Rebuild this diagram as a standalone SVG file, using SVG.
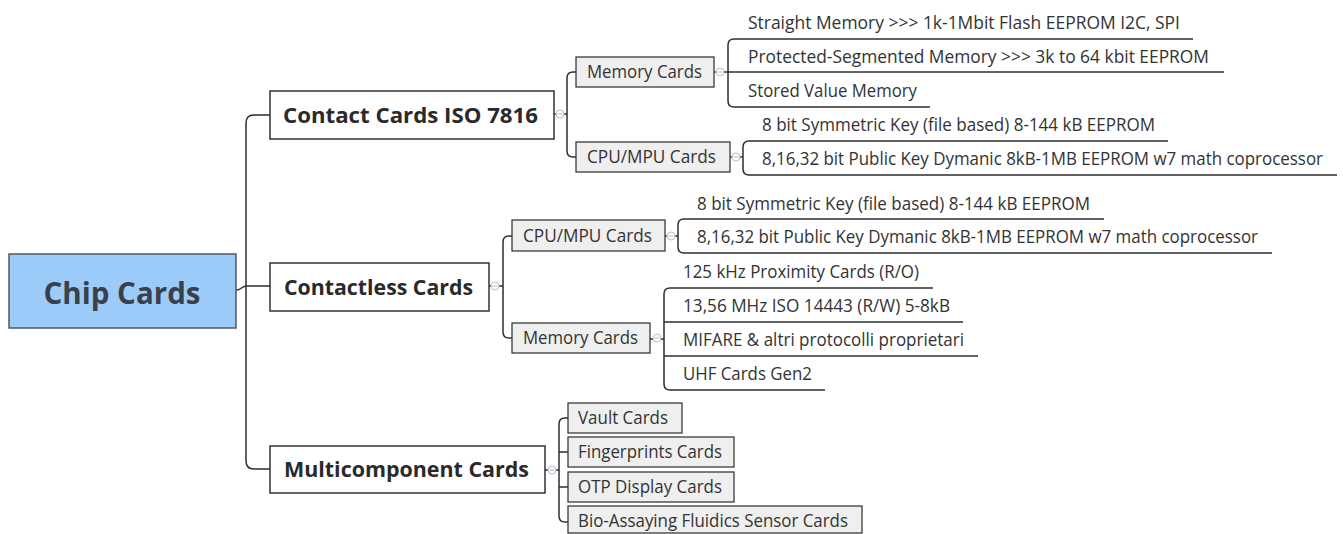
<svg xmlns="http://www.w3.org/2000/svg" width="1343" height="534" viewBox="0 0 1343 534">
  <style>
    .bg { fill: #ffffff; }
    .line { fill: none; stroke: #2e2e2e; stroke-width: 1.5; }
    .root-box { fill: #9dcbf9; stroke: #4f5762; stroke-width: 1.5; }
    .main-box { fill: #ffffff; stroke: #333333; stroke-width: 1.5; }
    .sub-box { fill: #efefef; stroke: #3a3a3a; stroke-width: 1.3; }
    .root-text { font-family: "Open Sans", "Noto Sans", sans-serif; font-weight: 700; font-size: 30px; fill: #3a4049; }
    .main-text { font-family: "Open Sans", "Noto Sans", sans-serif; font-weight: 700; font-size: 22px; fill: #2a2a2a; }
    .sub-text { font-family: "Open Sans", "Noto Sans", sans-serif; font-size: 17.5px; fill: #333333; }
    .leaf-text { font-family: "Open Sans", "Noto Sans", sans-serif; font-size: 17.5px; fill: #333333; }
    .collapse { fill: #ffffff; stroke: #b4c0d4; stroke-width: 1; }
    .collapse-bar { stroke: #b4c0d4; stroke-width: 1; }
  </style>
  <defs>
    <g id="collapse-btn">
      <circle class="collapse" cx="0" cy="0" r="4"/>
      <line class="collapse-bar" x1="-2.5" y1="0" x2="2.5" y2="0"/>
    </g>
  </defs>

  <rect class="bg" x="0" y="0" width="1343" height="534"/>

  <!-- connectors -->
  <g id="connectors">
    <!-- root trunk -->
    <path class="line" d="M270,115 H254 Q246,115 246,123 V461 Q246,469 254,469 H270"/>
    <path class="line" d="M236,290 C242,290 241,286 247,286 H270"/>
    <!-- Contact Cards ISO 7816 -->
    <path class="line" d="M554,114 H567"/>
    <path class="line" d="M576,72 H573 Q567,72 567,78 V151 Q567,157 573,157 H576"/>
    <!-- contact memory leaves -->
    <path class="line" d="M714,72 H1224"/>
    <path class="line" d="M1193,39 H734 Q728,39 728,45 V101 Q728,107 734,107 H930"/>
    <!-- contact CPU leaves -->
    <path class="line" d="M730,157 H743"/>
    <path class="line" d="M1168,141 H749 Q743,141 743,147 V169 Q743,175 749,175 H1337"/>
    <!-- Contactless Cards -->
    <path class="line" d="M489,286 H503"/>
    <path class="line" d="M512,236 H509 Q503,236 503,242 V332 Q503,338 509,338 H512"/>
    <!-- contactless CPU leaves -->
    <path class="line" d="M665,236 H678"/>
    <path class="line" d="M1104,219 H684 Q678,219 678,225 V247 Q678,253 684,253 H1272"/>
    <!-- contactless memory leaves -->
    <path class="line" d="M650,339 H664"/>
    <path class="line" d="M933,288 H670 Q664,288 664,294 V384 Q664,390 670,390 H825"/>
    <path class="line" d="M664,322 H963"/>
    <path class="line" d="M664,356 H978"/>
    <!-- Multicomponent Cards -->
    <path class="line" d="M545,470 H559"/>
    <path class="line" d="M568,418 H565 Q559,418 559,424 V516 Q559,522 565,522 H568"/>
    <path class="line" d="M559,452 H568"/>
    <path class="line" d="M559,487 H568"/>
  </g>

  <!-- collapse buttons -->
  <g id="collapse-buttons">
    <use href="#collapse-btn" x="560" y="114"/>
    <use href="#collapse-btn" x="720" y="72"/>
    <use href="#collapse-btn" x="736" y="157"/>
    <use href="#collapse-btn" x="495" y="286"/>
    <use href="#collapse-btn" x="671" y="236"/>
    <use href="#collapse-btn" x="657" y="338"/>
    <use href="#collapse-btn" x="552" y="470"/>
  </g>

  <!-- root -->
  <g id="chip-cards">
    <rect class="root-box" x="9" y="254" width="227" height="74"/>
    <text class="root-text" x="122" y="304" text-anchor="middle" textLength="157" lengthAdjust="spacingAndGlyphs">Chip Cards</text>
  </g>

  <!-- main branches -->
  <g id="contact-cards">
    <rect class="main-box" x="270" y="91" width="284" height="48"/>
    <text class="main-text" x="410.5" y="123" text-anchor="middle" textLength="255" lengthAdjust="spacingAndGlyphs">Contact Cards ISO 7816</text>
  </g>
  <g id="contactless-cards">
    <rect class="main-box" x="270" y="263" width="219" height="48"/>
    <text class="main-text" x="378.5" y="295" text-anchor="middle" textLength="189" lengthAdjust="spacingAndGlyphs">Contactless Cards</text>
  </g>
  <g id="multicomponent-cards">
    <rect class="main-box" x="270" y="446" width="275" height="47"/>
    <text class="main-text" x="406.5" y="477" text-anchor="middle" textLength="245" lengthAdjust="spacingAndGlyphs">Multicomponent Cards</text>
  </g>

  <!-- contact sub-branches -->
  <g id="contact-memory">
    <rect class="sub-box" x="576" y="57" width="138" height="30"/>
    <text class="sub-text" x="644.5" y="78" text-anchor="middle" textLength="115" lengthAdjust="spacingAndGlyphs">Memory Cards</text>
  </g>
  <g id="contact-cpu">
    <rect class="sub-box" x="576" y="142" width="154" height="30"/>
    <text class="sub-text" x="651.5" y="163" text-anchor="middle" textLength="129" lengthAdjust="spacingAndGlyphs">CPU/MPU Cards</text>
  </g>

  <!-- contact leaves -->
  <g id="contact-memory-straight">
    <text class="leaf-text" x="748" y="29" textLength="432" lengthAdjust="spacingAndGlyphs">Straight Memory &gt;&gt;&gt; 1k-1Mbit Flash EEPROM I2C, SPI</text>
  </g>
  <g id="contact-memory-protected">
    <text class="leaf-text" x="748" y="63" textLength="461" lengthAdjust="spacingAndGlyphs">Protected-Segmented Memory &gt;&gt;&gt; 3k to 64 kbit EEPROM</text>
  </g>
  <g id="contact-memory-stored">
    <text class="leaf-text" x="748" y="97" textLength="169" lengthAdjust="spacingAndGlyphs">Stored Value Memory</text>
  </g>
  <g id="contact-cpu-symmetric">
    <text class="leaf-text" x="762" y="131" textLength="393" lengthAdjust="spacingAndGlyphs">8 bit Symmetric Key (file based) 8-144 kB EEPROM</text>
  </g>
  <g id="contact-cpu-public">
    <text class="leaf-text" x="762" y="165" textLength="561" lengthAdjust="spacingAndGlyphs">8,16,32 bit Public Key Dymanic 8kB-1MB EEPROM w7 math coprocessor</text>
  </g>

  <!-- contactless sub-branches -->
  <g id="contactless-cpu">
    <rect class="sub-box" x="512" y="220" width="153" height="31"/>
    <text class="sub-text" x="587.5" y="242" text-anchor="middle" textLength="129" lengthAdjust="spacingAndGlyphs">CPU/MPU Cards</text>
  </g>
  <g id="contactless-memory">
    <rect class="sub-box" x="512" y="323" width="138" height="30"/>
    <text class="sub-text" x="580.5" y="344" text-anchor="middle" textLength="115" lengthAdjust="spacingAndGlyphs">Memory Cards</text>
  </g>

  <!-- contactless leaves -->
  <g id="contactless-cpu-symmetric">
    <text class="leaf-text" x="697" y="210" textLength="393" lengthAdjust="spacingAndGlyphs">8 bit Symmetric Key (file based) 8-144 kB EEPROM</text>
  </g>
  <g id="contactless-cpu-public">
    <text class="leaf-text" x="697" y="243" textLength="561" lengthAdjust="spacingAndGlyphs">8,16,32 bit Public Key Dymanic 8kB-1MB EEPROM w7 math coprocessor</text>
  </g>
  <g id="contactless-memory-125khz">
    <text class="leaf-text" x="683" y="278" textLength="236" lengthAdjust="spacingAndGlyphs">125 kHz Proximity Cards (R/O)</text>
  </g>
  <g id="contactless-memory-1356mhz">
    <text class="leaf-text" x="683" y="312" textLength="267" lengthAdjust="spacingAndGlyphs">13,56 MHz ISO 14443 (R/W) 5-8kB</text>
  </g>
  <g id="contactless-memory-mifare">
    <text class="leaf-text" x="683" y="346" textLength="281" lengthAdjust="spacingAndGlyphs">MIFARE &amp; altri protocolli proprietari</text>
  </g>
  <g id="contactless-memory-uhf">
    <text class="leaf-text" x="683" y="380" textLength="129" lengthAdjust="spacingAndGlyphs">UHF Cards Gen2</text>
  </g>

  <!-- multicomponent sub-branches -->
  <g id="multi-vault">
    <rect class="sub-box" x="568" y="403" width="114" height="30"/>
    <text class="sub-text" x="578" y="424" textLength="90" lengthAdjust="spacingAndGlyphs">Vault Cards</text>
  </g>
  <g id="multi-fingerprints">
    <rect class="sub-box" x="568" y="437" width="166" height="30"/>
    <text class="sub-text" x="578" y="458" textLength="144" lengthAdjust="spacingAndGlyphs">Fingerprints Cards</text>
  </g>
  <g id="multi-otp">
    <rect class="sub-box" x="568" y="472" width="166" height="30"/>
    <text class="sub-text" x="578" y="493" textLength="144" lengthAdjust="spacingAndGlyphs">OTP Display Cards</text>
  </g>
  <g id="multi-bio">
    <rect class="sub-box" x="568" y="506" width="294" height="27"/>
    <text class="sub-text" x="578" y="527" textLength="270" lengthAdjust="spacingAndGlyphs">Bio-Assaying Fluidics Sensor Cards</text>
  </g>
</svg>
